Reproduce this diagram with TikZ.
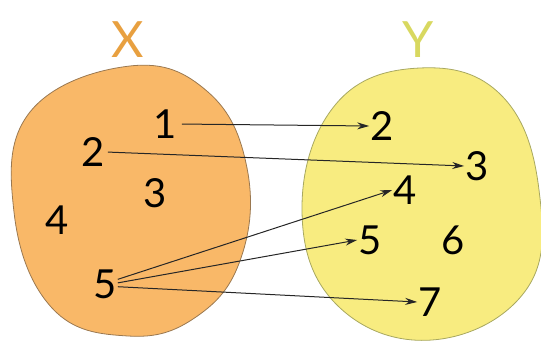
\documentclass[tikz,border=0pt]{standalone}
\usepackage{fontspec}
\setmainfont{Lato}
\usepackage{tikz}
\usetikzlibrary{arrows.meta}
\definecolor{cSetX}{HTML}{F9B868}
\definecolor{cSetY}{HTML}{F8EC80}
\definecolor{cLineX}{HTML}{9A7850}
\definecolor{cLineY}{HTML}{A8A860}
\definecolor{cTitleX}{HTML}{E8A040}
\definecolor{cTitleY}{HTML}{D8D860}

\begin{document}
\begin{tikzpicture}[x=1pt, y=-1pt,
  elem/.style={font=\fontsize{40}{40}\selectfont, inner sep=1pt},
  title/.style={font=\fontsize{50}{50}\selectfont, inner sep=0pt},
  arr/.style={-{Stealth[length=12pt, width=7pt]}, black!85, line width=1pt}]
\useasboundingbox (0,0) rectangle (541,347);
% the two sets
\draw[cLineX, fill=cSetX, line width=0.8pt] plot[smooth cycle, tension=0.7] coordinates
  {(130,66) (208,92) (247,168) (241,258) (196,317) (128,336) (52,308) (14,212) (30,112)};
\draw[cLineY, fill=cSetY, line width=0.8pt] plot[smooth cycle, tension=0.7] coordinates
  {(420,68) (502,96) (539,190) (526,290) (432,340) (336,304) (302,208) (336,104)};
\node[title, text=cTitleX] (tx) at (128,40) {X};
\node[title, text=cTitleY] (ty) at (418,40) {Y};
% elements of X
\node[elem] (x1) at (165,124) {1};
\node[elem] (x2) at (93,152) {2};
\node[elem] (x3) at (155,193) {3};
\node[elem] (x4) at (57,220) {4};
\node[elem] (x5) at (105,284) {5};
% elements of Y
\node[elem] (y2) at (382,126) {2};
\node[elem] (y3) at (477,166) {3};
\node[elem] (y4) at (405,190) {4};
\node[elem] (y5) at (370,240) {5};
\node[elem] (y6) at (453,240) {6};
\node[elem] (y7) at (430,302) {7};
% mapping
\draw[arr, shorten <=4pt] (x1.east) -- (y2.west);
\draw[arr, shorten <=2pt] (x2.east) -- (y3.west);
\draw[arr] (x5.20) -- (y4.west);
\draw[arr] (x5.5) -- (y5.west);
\draw[arr] (x5.-12) -- (y7.west);
\end{tikzpicture}
\end{document}
